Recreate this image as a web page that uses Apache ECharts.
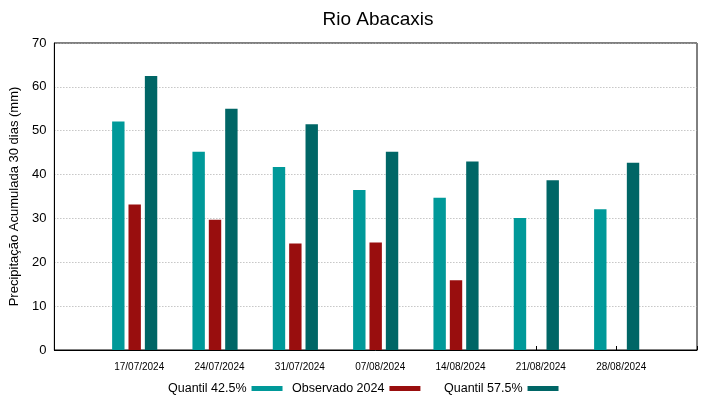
<!DOCTYPE html>
<html><head><meta charset="utf-8">
<script src="https://cdn.jsdelivr.net/npm/echarts@6/dist/echarts.min.js"></script>
<style>html,body{margin:0;padding:0;background:#fff}#c{width:719px;height:399px}</style>
</head><body><div id="c"></div>
<script>
const categories = ['', '17/07/2024', '24/07/2024', '31/07/2024', '07/08/2024', '14/08/2024', '21/08/2024', '28/08/2024', ''];
const q425 = [null, 52.1, 45.2, 41.7, 36.5, 34.7, 30.1, 32.1, null];
const obs2024 = [null, 33.2, 29.7, 24.3, 24.5, 15.9, null, null, null];
const q575 = [null, 62.5, 55.0, 51.5, 45.2, 43.0, 38.7, 42.7, null];
const yTicks = [0, 10, 20, 30, 40, 50, 60, 70];

const font = 'Liberation Sans, Arial, sans-serif';
const chart = echarts.init(document.getElementById('c'), null, {renderer: 'canvas'});
function lg(name, left) {
  return {show: true, data: [name], left: left, top: 382, align: 'right', itemWidth: 31, itemHeight: 5,
    icon: 'rect', textStyle: {fontFamily: font, fontSize: 12.5, color: '#000'}, padding: 0};
}
chart.setOption({
  animation: false,
  backgroundColor: '#fff',
  title: {text: 'Rio Abacaxis', left: 373, textAlign: 'center', top: 5,
    textStyle: {fontFamily: font, fontSize: 19, fontWeight: 'normal', color: '#000'}},
  legend: [lg('Quantil 42.5%', 168), lg('Observado 2024', 292), lg('Quantil 57.5%', 444)],
  grid: {left: 52, right: 22, top: 43, bottom: 49, show: true, borderColor: '#000', borderWidth: 1},
  xAxis: {
    type: 'category', data: categories, boundaryGap: false,
    axisLine: {lineStyle: {color: '#000'}},
    axisTick: {inside: true, length: 4, lineStyle: {color: '#000'}},
    axisLabel: {fontFamily: font, fontSize: 10, color: '#000', margin: 12, padding: [0, 0, 0, 9], interval: 0},
    splitLine: {show: false}
  },
  yAxis: {
    type: 'value', min: yTicks[0], max: yTicks[yTicks.length - 1], interval: 10,
    name: 'Precipitação Acumulada 30 dias (mm)', nameLocation: 'middle', nameGap: 28, nameRotate: 90,
    nameTextStyle: {fontFamily: font, fontSize: 13, color: '#000'},
    axisLine: {show: true, lineStyle: {color: '#000'}},
    axisTick: {show: false},
    axisLabel: {fontFamily: font, fontSize: 13, color: '#000', margin: 8},
    splitLine: {show: true, lineStyle: {color: '#aaa', type: [1, 2], width: 1}}
  },
  series: [
    {name: 'Quantil 42.5%', type: 'bar', data: q425, barWidth: 12.4, barGap: '32%', itemStyle: {color: '#009999'}},
    {name: 'Observado 2024', type: 'bar', data: obs2024, barWidth: 12.4, barGap: '32%', itemStyle: {color: '#990e0e'}},
    {name: 'Quantil 57.5%', type: 'bar', data: q575, barWidth: 12.4, barGap: '32%', itemStyle: {color: '#006666'}}
  ]
});
</script></body></html>
